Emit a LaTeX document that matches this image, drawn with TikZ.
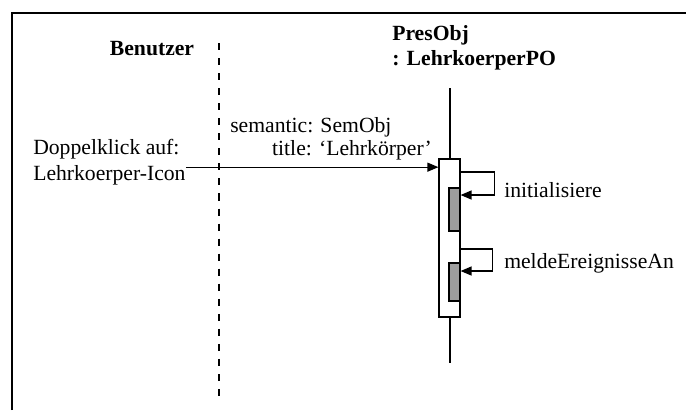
\documentclass[tikz,border=0pt]{standalone}
\usepackage{fontspec}
\setmainfont{Liberation Serif}
\usetikzlibrary{arrows.meta}

\begin{document}
\begin{tikzpicture}[
    x=0.025cm, y=-0.025cm,
    head/.style={font=\fontsize{15.4}{17.5}\selectfont\bfseries, inner sep=0pt},
    lbl/.style={font=\fontsize{15.4}{17.8}\selectfont, inner sep=0pt},
    frame/.style={line width=1.1pt},
    life/.style={line width=0.85pt},
    userlife/.style={line width=1.4pt, dash pattern=on 5pt off 5.7pt},
    actbox/.style={draw, line width=0.85pt, fill=white, minimum width=0.525cm, minimum height=3.95cm, inner sep=0pt},
    subbox/.style={draw, line width=0.85pt, fill=black!38, minimum width=0.275cm, inner sep=0pt},
    msg/.style={line width=0.85pt, -{Triangle[length=7.8pt, width=6.4pt]}}
]
\useasboundingbox (0,0) rectangle (686,410);

% Frame
\draw[frame] (12,410) -- (12,13) -- (686,13);

% Headers
\node[head, anchor=base] (benutzer) at (152,55) {Benutzer};
\node[head, anchor=base west, align=left] (presobj) at (392,65) {PresObj\\: LehrkoerperPO};

% Lifelines
\coordinate (u0) at (219,43);
\coordinate (u1) at (219,397);
\coordinate (p0) at (450,88);
\coordinate (p1) at (450,363);
\draw[userlife] (u0) -- (u1);
\draw[life] (p0) -- (p1);

% Activations
\node[actbox] (act) at (449.5,238) {};
\node[subbox, minimum height=1.075cm] (sub1) at (454.5,209.5) {};
\node[subbox, minimum height=0.95cm] (sub2) at (454.5,282) {};

% Messages
\node[lbl, anchor=base west, align=left] (user) at (33,180) {Doppelklick auf:\\Lehrkoerper-Icon};
\node[lbl, anchor=base west] (sem) at (230,132) {semantic: SemObj};
\node[lbl, anchor=base east] (title) at (432,155) {title: `Lehrkörper'};
\coordinate (m0) at ([yshift=-0.125cm]user.east);
\draw[msg] (m0) -- (m0 -| act.west);

\draw[msg] (act.east |- 0,172) -- ++(34,0) |- (sub1.east |- 0,195);
\draw[msg] (act.east |- 0,249) -- ++(32,0) |- (sub2.east |- 0,271);
\node[lbl, anchor=base west] (init) at (504,197) {initialisiere};
\node[lbl, anchor=base west] (melde) at (504,268) {meldeEreignisseAn};

\end{tikzpicture}
\end{document}
